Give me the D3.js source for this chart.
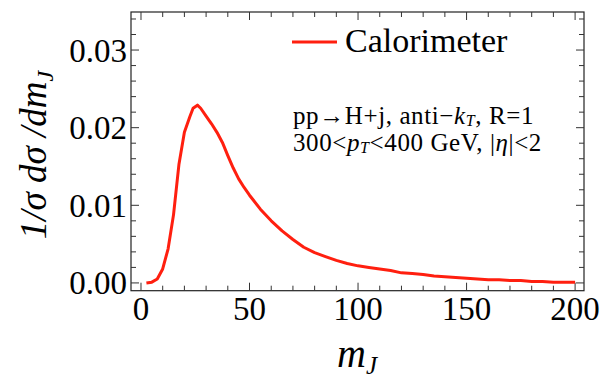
<!DOCTYPE html>
<html>
<head>
<meta charset="utf-8">
<script src="https://cdn.jsdelivr.net/npm/d3@7"></script>
<style>
  html, body { margin: 0; padding: 0; background: #fff; }
  svg { display: block; }
</style>
</head>
<body>
<svg id="chart" width="616" height="378"></svg>
<script>
// Jet mass distribution, normalised
const mJ = [2.5, 5, 7.5, 10, 12.5, 15, 17.5, 20, 22.5, 24, 26, 27.5, 30, 32.5, 35, 37.5, 40, 42.5, 45, 47.5, 50,
            55, 60, 65, 70, 75, 80, 85, 90, 95, 100, 105, 110, 115, 120, 125, 130, 135, 140, 145, 150,
            155, 160, 165, 170, 175, 180, 185, 190, 195, 200];
const density = [0.0000, 0.0001, 0.0005, 0.0018, 0.0044, 0.0088, 0.0153, 0.0194, 0.0214, 0.0225, 0.0229, 0.0225, 0.0215,
                 0.0205, 0.0194, 0.0181, 0.0164, 0.0148, 0.0134, 0.0123, 0.0113,
                 0.0095, 0.0080, 0.0067, 0.0056, 0.0046, 0.0039, 0.0034, 0.0029, 0.0025, 0.0022, 0.0020, 0.0018,
                 0.0016, 0.0013, 0.0012, 0.0011, 0.0009, 0.0008, 0.0007, 0.0006,
                 0.0005, 0.0004, 0.0004, 0.0003, 0.0003, 0.0002, 0.0002, 0.0001, 0.0001, 0.0001];
const xTicks = [0, 50, 100, 150, 200];
const yTicks = [0.00, 0.01, 0.02, 0.03];
const seriesName = "Calorimeter";
const lineColor = "#ff1f0f";
const serif = "'Liberation Serif', 'Times New Roman', Times, 'DejaVu Serif', serif";

const svg = d3.select("#chart")
  .attr("font-family", serif)
  .style("font-family", serif);
const frame = { left: 131, right: 584, top: 12, bottom: 290.7 };

const x = d3.scaleLinear().domain([-4.6, 204.1]).range([frame.left, frame.right]);
const y = d3.scaleLinear().domain([-0.001, 0.0349]).range([frame.bottom, frame.top]);

const axisColor = "#333";
const majorLen = 8, minorLen = 5;

// Frame
svg.append("rect")
  .attr("x", frame.left).attr("y", frame.top)
  .attr("width", frame.right - frame.left).attr("height", frame.bottom - frame.top)
  .attr("fill", "none").attr("stroke", "#222").attr("stroke-width", 1.2);

// Ticks on all four sides, pointing inward
const xMinor = d3.range(0, 201, 10).filter(v => !xTicks.includes(v));
const yMinor = d3.range(0, 0.0341, 0.002).map(v => +v.toFixed(4)).filter(v => !yTicks.some(t => Math.abs(t - v) < 1e-6));

const tg = svg.append("g").attr("stroke", axisColor).attr("stroke-width", 1);
function xTick(v, len) {
  tg.append("line").attr("x1", x(v)).attr("x2", x(v)).attr("y1", frame.bottom).attr("y2", frame.bottom - len);
  tg.append("line").attr("x1", x(v)).attr("x2", x(v)).attr("y1", frame.top).attr("y2", frame.top + len);
}
function yTick(v, len) {
  tg.append("line").attr("y1", y(v)).attr("y2", y(v)).attr("x1", frame.left).attr("x2", frame.left + len);
  tg.append("line").attr("y1", y(v)).attr("y2", y(v)).attr("x1", frame.right).attr("x2", frame.right - len);
}
xTicks.forEach(v => xTick(v, majorLen));
xMinor.forEach(v => xTick(v, minorLen));
yTicks.forEach(v => yTick(v, majorLen));
yMinor.forEach(v => yTick(v, minorLen));

// Tick labels
const fmtY = d3.format(".2f");
svg.append("g").selectAll("text").data(xTicks).join("text")
  .attr("x", d => x(d)).attr("y", 320)
  .attr("text-anchor", "middle").attr("font-size", 33)
  .text(d => d);
svg.append("g").selectAll("text").data(yTicks).join("text")
  .attr("x", 127).attr("y", d => y(d) + 11.5)
  .attr("text-anchor", "end").attr("font-size", 33)
  .text(d => fmtY(d));

// Axis titles
const xt = svg.append("text").attr("x", 357).attr("y", 367)
  .attr("text-anchor", "middle").attr("font-size", 40).attr("font-style", "italic");
xt.append("tspan").text("m");
xt.append("tspan").attr("dy", 7).attr("font-size", 25).text("J");

const yt = svg.append("text")
  .attr("transform", "translate(46,155) rotate(-90)")
  .attr("text-anchor", "middle").attr("font-size", 37).attr("font-style", "italic")
  .attr("xml:space", "preserve");
yt.append("tspan").text("1/σ dσ /dm");
yt.append("tspan").attr("dy", 7).attr("font-size", 24).text("J");

// Curve
const line = d3.line().x((d, i) => x(mJ[i])).y(d => y(d));
svg.append("path")
  .datum(density)
  .attr("d", line)
  .attr("fill", "none")
  .attr("stroke", lineColor)
  .attr("stroke-width", 3)
  .attr("stroke-linejoin", "round");

// Legend
svg.append("line").attr("x1", 292).attr("x2", 337).attr("y1", 42).attr("y2", 42)
  .attr("stroke", lineColor).attr("stroke-width", 3);
svg.append("text").attr("x", 345).attr("y", 52).attr("font-size", 34).text(seriesName);

// Process annotation
const a1 = svg.append("text").attr("x", 293).attr("y", 124).attr("font-size", 25).attr("letter-spacing", 0.6);
a1.append("tspan").text("pp→H+j, anti−");
a1.append("tspan").attr("font-style", "italic").text("k");
a1.append("tspan").attr("font-style", "italic").attr("font-size", 16).attr("dy", 2).text("T");
a1.append("tspan").attr("dy", -2).text(", R=1");

const a2 = svg.append("text").attr("x", 293).attr("y", 151).attr("font-size", 25).attr("letter-spacing", 0.6);
a2.append("tspan").text("300<");
a2.append("tspan").attr("font-style", "italic").text("p");
a2.append("tspan").attr("font-style", "italic").attr("font-size", 16).attr("dy", 2).text("T");
a2.append("tspan").attr("dy", -2).text("<400 GeV, |");
a2.append("tspan").attr("font-style", "italic").text("η");
a2.append("tspan").text("|<2");
</script>
</body>
</html>
